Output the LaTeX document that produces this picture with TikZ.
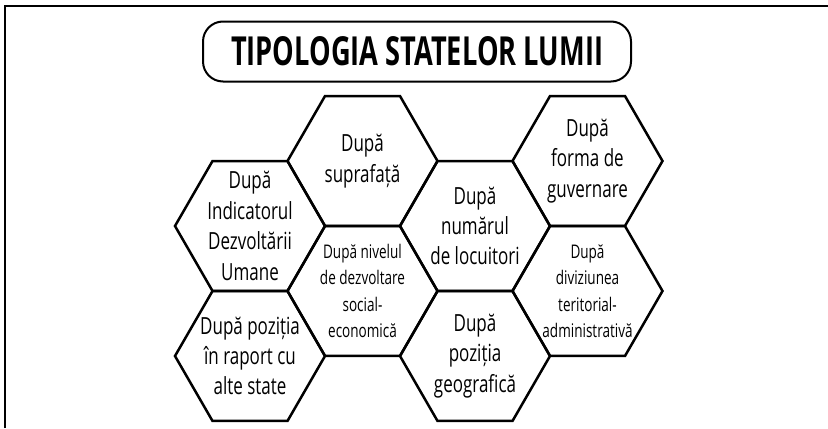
\documentclass[tikz,border=0pt]{standalone}
\usepackage{fontspec}
\setmainfont{Open Sans}[FakeStretch=0.72]
\newfontfamily\titlefont{Open Sans}[FakeStretch=0.68]
\usetikzlibrary{shapes.geometric}

\tikzset{
  hexcell/.style={regular polygon, regular polygon sides=6, minimum size=75pt,
                  inner sep=0pt, draw, line width=1.25pt},
  bigtxt/.style={align=center, inner sep=0pt, font=\fontsize{11.8}{15.2}\selectfont},
  smalltxt/.style={align=center, inner sep=0pt, font=\fontsize{9.4}{13.2}\selectfont},
}

\begin{document}
\begin{tikzpicture}[x=0.5pt, y=-0.5pt]
    \useasboundingbox (0,0) rectangle (828,428);

    % frame, open at right and bottom
    \draw[line width=1pt] (5,428) -- (5,5.5) -- (828,5.5);

    % title
    \node[draw, line width=1pt, rounded corners=10pt, minimum width=214pt,
          minimum height=30pt, inner sep=0pt,
          font=\titlefont\bfseries\fontsize{20}{24}\selectfont] (title) at (417,51.5)
          {TIPOLOGIA STATELOR LUMII};

    % hexagons, first column
    \node[hexcell] (idu)   at (250,226)   {};
    \node[hexcell] (relat) at (250,356)   {};
    % second column
    \node[hexcell] (supr)  at (362.5,161) {};
    \node[hexcell] (nivel) at (362.5,291) {};
    % third column
    \node[hexcell] (numar) at (475,226)   {};
    \node[hexcell] (geo)   at (475,356)   {};
    % fourth column
    \node[hexcell] (forma) at (587.5,161) {};
    \node[hexcell] (divz)  at (587.5,291) {};

    % texts
    \node[bigtxt]   (idu-t)   at (idu)   {După\\Indicatorul\\Dezvoltării\\Umane};
    \node[bigtxt]   (relat-t) at (relat) {După poziția\\în raport cu\\alte state};
    \node[bigtxt]   (supr-t)  at (supr)  {După\\suprafață};
    \node[smalltxt] (nivel-t) at (nivel) {După nivelul\\de dezvoltare\\social-\\economică};
    \node[bigtxt]   (numar-t) at (numar) {După\\numărul\\de locuitori};
    \node[bigtxt]   (geo-t)   at (geo)   {După\\poziția\\geografică};
    \node[bigtxt]   (forma-t) at (forma) {După\\forma de\\guvernare};
    \node[smalltxt] (divz-t)  at (divz)  {După\\diviziunea\\teritorial-\\administrativă};
\end{tikzpicture}
\end{document}
